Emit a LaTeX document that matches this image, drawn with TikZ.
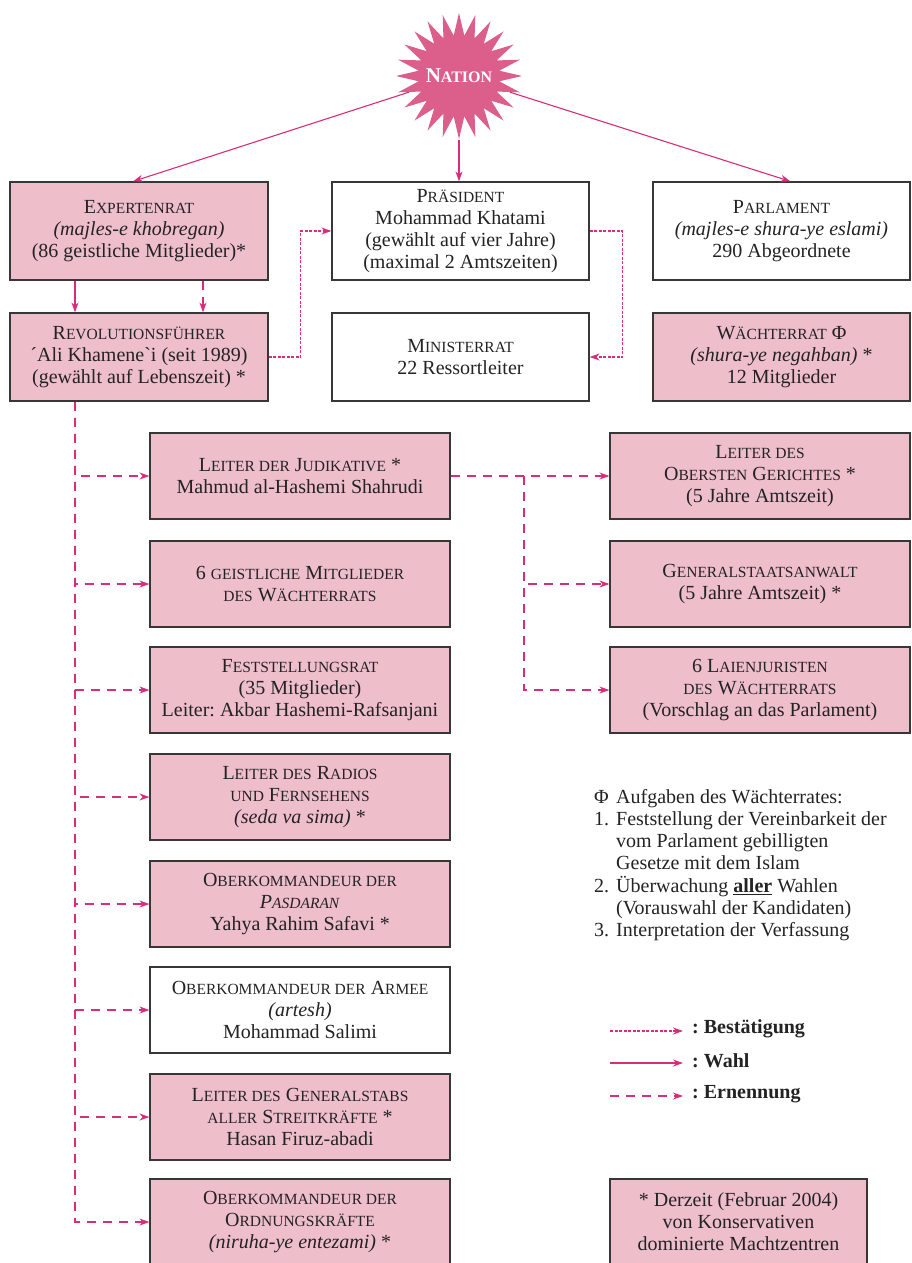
\documentclass[tikz,border=0pt]{standalone}
\usepackage{fontspec}
\setmainfont{Liberation Serif}
\newfontfamily\plainserif{Liberation Serif}
\usetikzlibrary{shapes.geometric,arrows.meta}
\definecolor{pinkfill}{RGB}{239,190,203}
\definecolor{boxline}{RGB}{55,55,55}
\definecolor{conn}{RGB}{216,45,122}
\definecolor{starpink}{RGB}{220,94,139}
\definecolor{txt}{RGB}{35,35,35}
\newcommand{\s}[1]{{\fontsize{15.5}{22}\selectfont #1}}
\frenchspacing
\tikzset{
  box/.style={draw=boxline, line width=1.2pt, align=center, inner sep=0pt, text=txt,
    font=\fontsize{20}{22}\selectfont},
  pbox/.style={box, fill=pinkfill},
  wbox/.style={box, fill=white},
  tip/.style={-{Stealth[length=10pt,width=7pt]}},
  wahl/.style={draw=conn, line width=1.1pt, tip},
  ern/.style={draw=conn, line width=1.1pt, dash pattern=on 9pt off 7pt, tip},
  best/.style={draw=conn, line width=1.2pt, dash pattern=on 3pt off 1.5pt, tip},
}
\begin{document}
\begin{tikzpicture}[x=1pt,y=-1pt]
\useasboundingbox (0,0) rectangle (911,1263);
% star
\node[star, star points=24, star point ratio=1.55, minimum size=126pt, fill=starpink, inner sep=0pt] (nation) at (459,76) {};
\node[text=white, font=\bfseries, inner sep=0pt] (nationlabel) at (nation.center)
 {{\fontsize{21}{22}\selectfont N}{\fontsize{16}{22}\selectfont ATION}};
% row 1
\node[pbox, minimum width=258pt, minimum height=98pt] (expert) at (139,231)
 {E\s{XPERTENRAT}\\\textit{(majles-e khobregan)}\\(86 geistliche Mitglieder)*};
\node[wbox, minimum width=257pt, minimum height=98pt] (pres) at (460.5,231)
 {P\s{RÄSIDENT}\\Mohammad Khatami\\(gewählt auf vier Jahre)\\(maximal 2 Amtszeiten)};
\node[wbox, minimum width=257pt, minimum height=98pt] (parl) at (781.5,231)
 {P\s{ARLAMENT}\\\textit{(majles-e shura-ye eslami)}\\290 Abgeordnete};
% row 2
\node[pbox, minimum width=258pt, minimum height=88pt] (revo) at (139,357)
 {R\s{EVOLUTIONSFÜHRER}\\{\plainserif\char"B4}Ali Khamene{\plainserif\char"60}i (seit 1989)\\(gewählt auf Lebenszeit) *};
\node[wbox, minimum width=257pt, minimum height=88pt] (mini) at (460.5,357)
 {M\s{INISTERRAT}\\22 Ressortleiter};
\node[pbox, minimum width=257pt, minimum height=88pt] (waech) at (781.5,357)
 {W\s{ÄCHTERRAT} Φ\\\textit{(shura-ye negahban)} *\\12 Mitglieder};
% left column
\node[pbox, minimum width=300pt, minimum height=86pt] (jud) at (300,476)
 {L\s{EITER DER} J\s{UDIKATIVE} *\\Mahmud al-Hashemi Shahrudi};
\node[pbox, minimum width=300pt, minimum height=86pt] (geist) at (300,584)
 {6 \s{GEISTLICHE} M\s{ITGLIEDER}\\\s{DES} W\s{ÄCHTERRATS}};
\node[pbox, minimum width=300pt, minimum height=86pt] (fest) at (300,690)
 {F\s{ESTSTELLUNGSRAT}\\(35 Mitglieder)\\Leiter: Akbar Hashemi-Rafsanjani};
\node[pbox, minimum width=300pt, minimum height=86pt] (radio) at (300,797)
 {L\s{EITER DES} R\s{ADIOS}\\\s{UND} F\s{ERNSEHENS}\\\textit{(seda va sima)} *};
\node[pbox, minimum width=300pt, minimum height=86pt] (pasd) at (300,904)
 {O\s{BERKOMMANDEUR DER}\\\textit{P\s{ASDARAN}}\\Yahya Rahim Safavi *};
\node[wbox, minimum width=300pt, minimum height=86pt] (armee) at (300,1010)
 {O\s{BERKOMMANDEUR DER} A\s{RMEE}\\\textit{(artesh)}\\Mohammad Salimi};
\node[pbox, minimum width=300pt, minimum height=86pt] (stab) at (300,1117)
 {L\s{EITER DES} G\s{ENERALSTABS}\\\s{ALLER} S\s{TREITKRÄFTE} *\\Hasan Firuz-abadi};
\node[pbox, minimum width=300pt, minimum height=86pt] (ordn) at (300,1222)
 {O\s{BERKOMMANDEUR DER}\\O\s{RDNUNGSKRÄFTE}\\\textit{(niruha-ye entezami)} *};
% right column
\node[pbox, minimum width=300pt, minimum height=86pt] (ober) at (760,476)
 {L\s{EITER DES}\\O\s{BERSTEN} G\s{ERICHTES} *\\(5 Jahre Amtszeit)};
\node[pbox, minimum width=300pt, minimum height=86pt] (gen) at (760,584)
 {G\s{ENERALSTAATSANWALT}\\(5 Jahre Amtszeit) *};
\node[pbox, minimum width=300pt, minimum height=86pt] (laien) at (760,690)
 {6 L\s{AIENJURISTEN}\\\s{DES} W\s{ÄCHTERRATS}\\(Vorschlag an das Parlament)};
% footnote box
\node[pbox, minimum width=257pt, minimum height=86pt] (foot) at (738.5,1222)
 {* Derzeit (Februar 2004)\\von Konservativen\\dominierte Machtzentren};
% notes
\node[anchor=north west, inner sep=0pt, text=txt, font=\fontsize{20}{22}\selectfont] (notes) at (594,788)
 {\begin{tabular}{@{}l@{\hspace{7pt}}l@{}}
 Φ & Aufgaben des Wächterrates:\\
 1. & Feststellung der Vereinbarkeit der\\
    & vom Parlament gebilligten\\
    & Gesetze mit dem Islam\\
 2. & Überwachung \textbf{\underline{aller}} Wahlen\\
    & (Vorauswahl der Kandidaten)\\
 3. & Interpretation der Verfassung
 \end{tabular}};
% coordinates
\coordinate (tk) at (75,0);
\coordinate (tk2) at (203,0);
\coordinate (rtk) at (524,0);
% connectors from nation
\draw[wahl] (nation) -- ([xshift=-6pt]expert.north);
\draw[wahl] (nation) -- (pres.north -| nation);
\draw[wahl] (nation) -- ([xshift=9pt]parl.north);
% expert -> revo
\draw[wahl] (expert.south -| tk) -- (revo.north -| tk);
\draw[ern] (expert.south -| tk2) -- (revo.north -| tk2);
% bestaetigung
\draw[best] (revo.east) -- ++(32,0) |- (pres.west);
\draw[best] (pres.east) -- ++(33,0) |- (mini.east);
% ernennung trunk
\foreach \n in {jud,geist,fest,radio,pasd,armee,stab,ordn}
  \draw[ern] (revo.south -| tk) |- (\n.west);
% judikative -> right
\draw[ern] (jud.east) -- (ober.west);
\draw[ern] (jud.east -| rtk) |- (gen.west);
\draw[ern] (jud.east -| rtk) |- (laien.west);
% legend
\coordinate (la1) at (610,1031); \coordinate (lb1) at (683,1031);
\coordinate (la2) at (610,1063); \coordinate (lb2) at (683,1063);
\coordinate (la3) at (610,1096); \coordinate (lb3) at (683,1096);
\draw[best] (la1) -- (lb1);
\draw[wahl] (la2) -- (lb2);
\draw[ern] (la3) -- (lb3);
\node[anchor=west, inner sep=0pt, text=txt, font=\fontsize{20}{22}\selectfont\bfseries] (l1) at (692,1029) {: Bestätigung};
\node[anchor=west, inner sep=0pt, text=txt, font=\fontsize{20}{22}\selectfont\bfseries] (l2) at (692,1061) {: Wahl};
\node[anchor=west, inner sep=0pt, text=txt, font=\fontsize{20}{22}\selectfont\bfseries] (l3) at (692,1094) {: Ernennung};
\end{tikzpicture}
\end{document}
